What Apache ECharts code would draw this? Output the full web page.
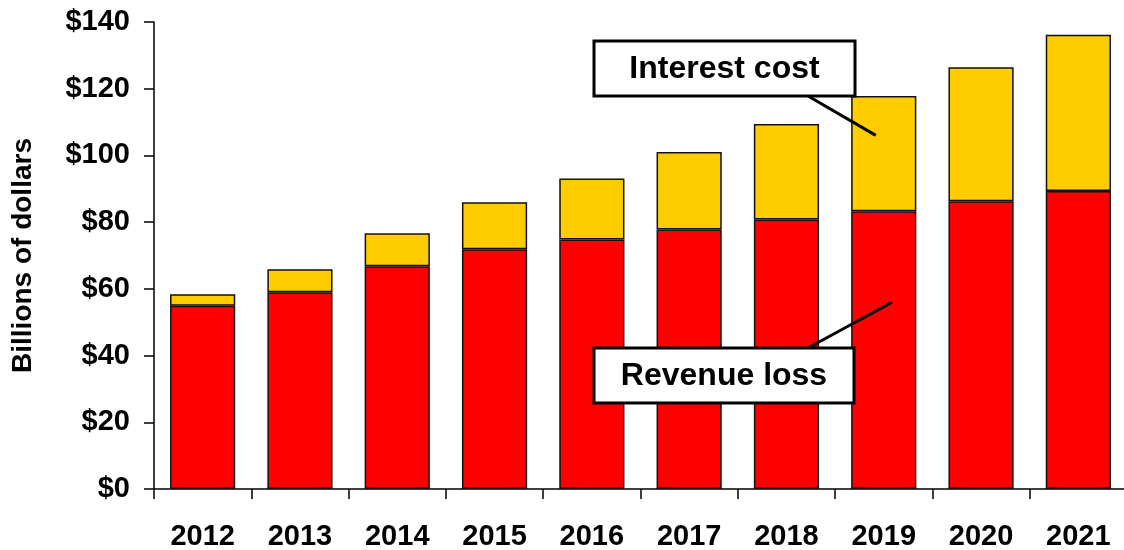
<!DOCTYPE html>
<html>
<head>
<meta charset="utf-8">
<script src="https://cdn.jsdelivr.net/npm/echarts@6/dist/echarts.min.js"></script>
<style>
  html, body { margin: 0; padding: 0; background: #fff; }
  #chart { width: 1124px; height: 550px; }
</style>
</head>
<body>
<div id="chart"></div>
<script>
const years = ["2012", "2013", "2014", "2015", "2016", "2017", "2018", "2019", "2020", "2021"];
const revenueLoss = [54.9, 59.0, 66.8, 71.9, 74.8, 77.8, 80.8, 83.3, 86.3, 89.3];
const totalCost = [58.4, 65.9, 76.7, 86.0, 93.1, 101.0, 109.4, 117.8, 126.4, 136.2];
const interestCost = totalCost.map((t, i) => +(t - revenueLoss[i]).toFixed(1));
const yTicks = { min: 0, max: 140, interval: 20 };

const font = '"Liberation Sans", Arial, sans-serif';
const chart = echarts.init(document.getElementById("chart"), null, { renderer: "canvas" });

const option = {
  animation: false,
  grid: { left: 154, right: -3, top: 22, bottom: 61, containLabel: false, outerBoundsMode: "none" },
  xAxis: {
    type: "category",
    data: years,
    axisLine: { lineStyle: { color: "#000", width: 1.5 } },
    axisTick: { show: true, length: 10, lineStyle: { color: "#000", width: 1.5 } },
    axisLabel: { color: "#000", fontFamily: font, fontWeight: "bold", fontSize: 29, margin: 33 }
  },
  yAxis: {
    type: "value",
    min: yTicks.min,
    max: yTicks.max,
    interval: yTicks.interval,
    name: "Billions of dollars",
    nameLocation: "middle",
    nameGap: 117,
    nameTextStyle: { color: "#000", fontFamily: font, fontWeight: "bold", fontSize: 28 },
    axisLine: { show: true, lineStyle: { color: "#000", width: 1.5 } },
    axisTick: { show: true, length: 10, lineStyle: { color: "#000", width: 1.5 } },
    splitLine: { show: false },
    axisLabel: {
      color: "#000", fontFamily: font, fontWeight: "bold", fontSize: 29, margin: 24,
      formatter: v => "$" + v
    }
  },
  series: [
    {
      name: "Revenue loss",
      type: "bar",
      stack: "total",
      data: revenueLoss,
      barCategoryGap: "33%",
      itemStyle: { color: "#ff0000", borderColor: "#111", borderWidth: 1.5 }
    },
    {
      name: "Interest cost",
      type: "bar",
      stack: "total",
      data: interestCost,
      itemStyle: { color: "#ffcc00", borderColor: "#111", borderWidth: 1.5 }
    }
  ]
};
chart.setOption(option);

// annotation callouts: boxes in pixel layout, pointer tips in data coordinates
const interestTip = chart.convertToPixel({ seriesIndex: 0 }, ["2019", 106]);
const revenueTip = chart.convertToPixel({ seriesIndex: 0 }, ["2020", 56]);
interestTip[0] -= 8;
revenueTip[0] -= 89;

function callout(text, x, y, w, h, from, tip) {
  return [
    {
      type: "line", z: 10,
      shape: { x1: from[0], y1: from[1], x2: tip[0], y2: tip[1] },
      style: { stroke: "#000", lineWidth: 3 }
    },
    {
      type: "rect", z: 11,
      shape: { x: x, y: y, width: w, height: h },
      style: { fill: "#fff", stroke: "#000", lineWidth: 3 }
    },
    {
      type: "text", z: 12,
      x: x + w / 2, y: y + h / 2 + 1,
      style: {
        text: text, fill: "#000", font: "bold 32px " + font,
        align: "center", verticalAlign: "middle"
      }
    }
  ];
}

chart.setOption({
  graphic: [
    ...callout("Interest cost", 594, 41, 261, 55, [808, 96], interestTip),
    ...callout("Revenue loss", 594, 348, 260, 55, [808, 348], revenueTip)
  ]
});
</script>
</body>
</html>
